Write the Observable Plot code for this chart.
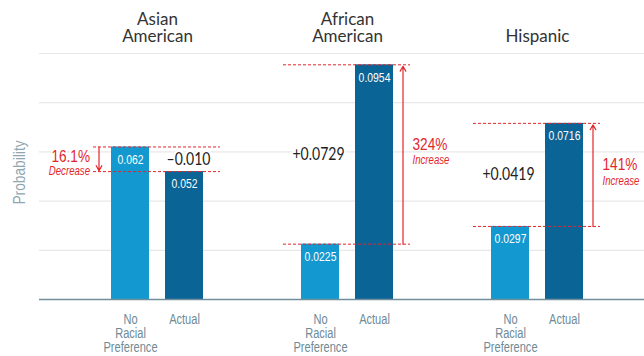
<!DOCTYPE html>
<html><head><meta charset="utf-8">
<script src="https://cdn.jsdelivr.net/npm/d3@7"></script>
<script src="https://cdn.jsdelivr.net/npm/@observablehq/plot@0.6"></script>
<style>body{margin:0;background:#fff} svg{display:block}</style>
</head><body><div id="chart"></div>
<script>
const groups = ["Asian American", "African American", "Hispanic"];
const groupTitles = ["Asian\nAmerican", "African\nAmerican", "Hispanic"];
const scenarios = ["No Racial Preference", "Actual"];
const scenarioLabels = ["No\nRacial\nPreference", "Actual"];
const noPreference = [0.062, 0.0225, 0.0297];
const actual = [0.052, 0.0954, 0.0716];
const differenceLabels = ["\u20130.010", "+0.0729", "+0.0419"];
const percentLabels = ["16.1%", "324%", "141%"];
const changeLabels = ["Decrease", "Increase", "Increase"];
const gridTicks = [0.02, 0.04, 0.06, 0.08, 0.10];
const yLabel = "Probability";

const RED = "#e3262c";
const COND = "'Liberation Sans', Arial, sans-serif";
const GEO = "Lato, 'Open Sans', sans-serif";

const bars = groups.flatMap((g, i) => [
  {group: g, scenario: scenarios[0], value: noPreference[i]},
  {group: g, scenario: scenarios[1], value: actual[i]}
]);
const ann = groups.map((g, i) => ({
  group: g, title: groupTitles[i], from: noPreference[i], to: actual[i],
  mid: (noPreference[i] + actual[i]) / 2, diff: differenceLabels[i],
  pct: percentLabels[i], change: changeLabels[i], up: actual[i] > noPreference[i]
}));
const up = ann.filter(d => d.up), down = ann.filter(d => !d.up);
const dashed = ann.flatMap(d => [{group: d.group, v: d.from}, {group: d.group, v: d.to}]);

const gridStyle = {y: d => d, stroke: "#e8e8e8", strokeWidth: 1.2};
const baseStyle = {y: d => d, stroke: "#6f8f9c", strokeWidth: 1.6};

const chart = Plot.plot({
  width: 644, height: 356,
  marginLeft: 61, marginRight: 12, marginTop: 53, marginBottom: 57,
  style: {fontFamily: COND, background: "#fff"},
  fx: {domain: groups, padding: 0, axis: null},
  x: {domain: scenarios, paddingInner: 0.29, paddingOuter: 0.876, axis: null},
  y: {domain: [0, 0.1], axis: null},
  color: {domain: scenarios, range: ["#1399cf", "#0b6496"]},
  marks: [
    Plot.ruleY(gridTicks, {...gridStyle, fx: () => groups[0], insetLeft: -23}),
    Plot.ruleY(gridTicks, {...gridStyle, fx: () => groups[1]}),
    Plot.ruleY(gridTicks, {...gridStyle, fx: () => groups[2], insetRight: -12}),
    Plot.barY(bars, {fx: "group", x: "scenario", y: "value", fill: "scenario"}),
    Plot.ruleY([0], {...baseStyle, fx: () => groups[0], insetLeft: -23}),
    Plot.ruleY([0], {...baseStyle, fx: () => groups[1]}),
    Plot.ruleY([0], {...baseStyle, fx: () => groups[2], insetRight: -12}),
    Plot.text(bars, {fx: "group", x: "scenario", y: "value", text: d => String(d.value), fill: "white",
      lineAnchor: "top", dy: 7.5, fontSize: 13, className: "c80"}),
    Plot.ruleY(dashed, {fx: "group", y: "v", stroke: RED, strokeWidth: 1, strokeDasharray: "3,2", insetLeft: 31, insetRight: 32}),
    Plot.arrow(up, {fx: "group", x1: () => scenarios[1], x2: () => scenarios[1], y1: "from", y2: "to",
      dx: 28.5, stroke: RED, strokeWidth: 1.2, headLength: 7, bend: 0, insetStart: 0, insetEnd: 1.5}),
    Plot.arrow(down, {fx: "group", x1: () => scenarios[0], x2: () => scenarios[0], y1: "from", y2: "to",
      dx: -31.5, stroke: RED, strokeWidth: 1.2, headLength: 7, bend: 0, insetStart: 0, insetEnd: 1}),
    Plot.text(up, {fx: "group", x: () => scenarios[0], y: "mid", text: "diff", fontSize: 16.5, fill: "#222",
      fontFamily: GEO, dx: -2, stroke: "white", strokeWidth: 5, className: "c85"}),
    Plot.text(down, {fx: "group", x: () => scenarios[1], y: "mid", text: "diff", fontSize: 16.5, fill: "#222",
      fontFamily: GEO, dx: 4, stroke: "white", strokeWidth: 5, className: "c85"}),
    Plot.text(up, {fx: "group", x: () => scenarios[1], y: "mid", text: "pct", textAnchor: "start",
      dx: 38, dy: -10, fontSize: 17, fill: RED, className: "c80"}),
    Plot.text(up, {fx: "group", x: () => scenarios[1], y: "mid", text: "change", textAnchor: "start",
      dx: 38, dy: 6, fontSize: 12.5, fontStyle: "italic", fill: RED, className: "c77"}),
    Plot.text(down, {fx: "group", x: () => scenarios[0], y: "mid", text: "pct", textAnchor: "end",
      dx: -40.5, dy: -2.5, fontSize: 17, fill: RED, stroke: "white", strokeWidth: 4, className: "c80"}),
    Plot.text(down, {fx: "group", x: () => scenarios[0], y: "mid", text: "change", textAnchor: "end",
      dx: -40.5, dy: 11.5, fontSize: 12.5, fontStyle: "italic", fill: RED, className: "c77"}),
    Plot.text(ann, {fx: "group", text: "title", frameAnchor: "top", lineAnchor: "bottom", dy: -12,
      fontSize: 17, fill: "#333", fontFamily: GEO}),
    Plot.axisX({tickSize: 0, tickPadding: 15, fontSize: 14, fill: "#6e8a96", lineHeight: 1.0,
      tickFormat: d => scenarioLabels[scenarios.indexOf(d)], label: null, className: "c79"}),
    Plot.text([yLabel], {fx: () => groups[0], frameAnchor: "left", textAnchor: "middle", dx: -43, dy: -4, rotate: -90,
      text: d => d, fontSize: 16, fill: "#8ea6b0", className: "c86"})
  ]
});
document.getElementById("chart").appendChild(chart);

// condense text glyphs to mimic the narrow typeface of the original
const factors = {c77: 0.77, c79: 0.79, c80: 0.8, c85: 0.85, c86: 0.86};
for (const [cls, f] of Object.entries(factors)) {
  chart.querySelectorAll(`.${cls} text`).forEach(t => {
    const spans = t.querySelectorAll("tspan");
    const els = spans.length ? Array.from(spans) : [t];
    els.forEach(e => {
      const w = e.getComputedTextLength();
      if (w > 0) {
        e.setAttribute("textLength", (w * f).toFixed(2));
        e.setAttribute("lengthAdjust", "spacingAndGlyphs");
      }
    });
  });
}
</script>
</body></html>
